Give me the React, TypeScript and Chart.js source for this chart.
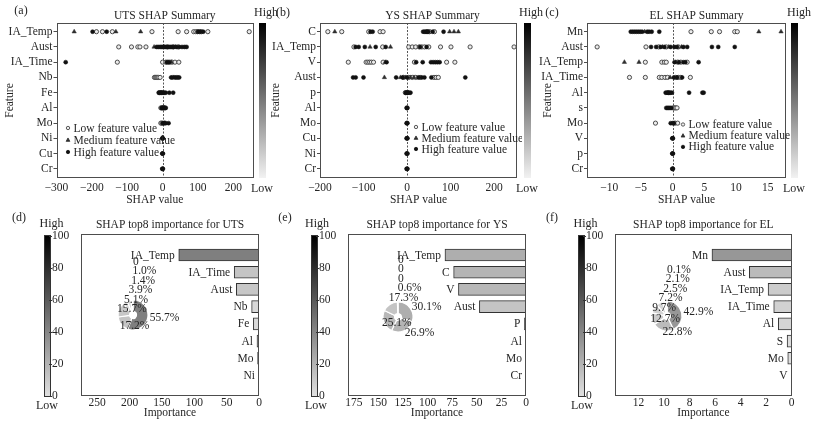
import { useEffect, useRef, type ReactNode } from "react"
import { Chart, registerables } from "chart.js"

Chart.register(...registerables)

const FONT = '"Liberation Serif", "Times New Roman", serif'
const INK = "#262626"
const EDGE = "#4d4d4d"

// ---------- (a) UTS SHAP summary ----------
const utsFeatures = ["IA_Temp", "Aust", "IA_Time", "Nb", "Fe", "Al", "Mo", "Ni", "Cu", "Cr"]
const utsTicks = [-300, -200, -100, 0, 100, 200]
const utsLow = [
  [-187, -170, -142, -30, 44, 68, 88, 94, 99, 104, 110, 128, 245],
  [-124, -88, -70, -64, -47, 14, 30, 44],
  [-128, 0, 9, 15, 21, 27, 35, 46],
  [-23, -20, -17, -14, -11, -7],
  [-9, -4],
  [-5, -1, 3, 7],
  [-5, -2],
  [], [], [],
]
const utsMed = [
  [-250, -132, -62],
  [-24, 4, 36],
  [25],
  [32],
  [-2],
  [1, 5],
  [6],
  [], [], [],
]
const utsHigh = [
  [-198, -158, 100, 107, 115],
  [-17, -12, -7, -3, 1, 5, 9, 13, 18, 22, 26, 31, 39, 47, 55, 62, 68],
  [-274, 12, 18],
  [24, 28, 35, 39, 43, 47],
  [-11, -7, -5, -1, 2, 5, 9, 19, 30],
  [-3, -1, 2, 4, 9],
  [0, 3, 6, 9, 17],
  [-1, 0, 1], [-1, 0, 1], [-1, 0, 1],
]

// ---------- (b) YS SHAP summary ----------
const ysFeatures = ["C", "IA_Temp", "V", "Aust", "p", "Al", "Mo", "Cu", "Ni", "Cr"]
const ysTicks = [-200, -100, 0, 100, 200]
const ysLow = [
  [-182, -150, -88, -62, -55, 46, 52, 63],
  [-122, -56, 4, 12, 20, 28, 34, 40, 50, 77, 101, 145, 246],
  [-135, -94, -90, -86, -82, -77, -55, 17, 91, 110],
  [-8, 4, 12, 20, 30, 62, 67, 72],
  [-4, 1],
  [], [], [], [], [],
]
const ysMed = [
  [-166, 98, 108, 118],
  [-85, -38],
  [-50],
  [-52, -15, -3, 8, 16],
  [3],
  [], [], [], [], [],
]
const ysHigh = [
  [-84, -79, 37, 40, 43, 46, 49, 59, 84],
  [-118, -111, -97, -72, -49, 30, 45],
  [-47, 21, 36, 55, 60, 65, 70, 75],
  [-124, -118, -100, -25, -10, 0, 26, 34, 40, 56, 134],
  [-3, -1, 0, 2, 5, 8],
  [-1, 0, 1], [-1, 0, 1], [-1, 0, 1], [-1, 0, 1], [-1, 0, 1],
]

// ---------- (c) EL SHAP summary ----------
const elFeatures = ["Mn", "Aust", "IA_Temp", "IA_Time", "Al", "s", "Mo", "V", "p", "Cr"]
const elTicks = [-10, -5, 0, 5, 10, 15]
const elLow = [
  [2.9, 6.1, 7.4, 9.8, 10.2],
  [-11.9, -4.2, -2.2, -1.0, 0.9],
  [-4.3, -1.7, -1.3, -1.0, 0.8, 1.3, 2.3],
  [-6.8, -4.3, -2.1, -1.7, -1.2, -0.8, 0.5, 0.9, 1.3, 2.8],
  [-0.7],
  [0.1, 0.3, 0.5, 0.7],
  [-2.7, 0.4, 0.8],
  [], [], [],
]
const elMed = [
  [-4.4, 13.6, 17.1],
  [-1.6, -0.6, 1.4],
  [-7.6, -5.3, 0.5],
  [-0.4],
  [], [], [], [], [], [],
]
const elHigh = [
  [-6.6, -6.3, -6.0, -5.7, -5.4, -5.1, -4.8, -4.0, -3.7, -3.3, -2.1],
  [-3.4, -2.6, -1.9, -1.3, -0.3, 0.3, 0.7, 1.7, 2.3, 6.2, 7.2, 9.8],
  [0.3, 1.0, 1.7, 2.0, 4.1],
  [0.2, 0.7, 1.5],
  [-1.1, -0.9, -0.7, -0.5, -0.3, -0.1, 2.6, 4.7, 4.9],
  [-1.0, -0.8, -0.6, -0.4, -0.2],
  [-0.3, 0, 0.2],
  [-0.05, 0, 0.05], [-0.05, 0, 0.05], [-0.05, 0, 0.05],
]

// ---------- (d)-(f) top8 importance and share ----------
const utsTop8 = ["IA_Temp", "IA_Time", "Aust", "Nb", "Fe", "Al", "Mo", "Ni"]
const utsImportance = [124, 38.3, 35, 11.4, 8.7, 3.1, 2.2, 0]
const utsShare = [55.7, 17.2, 15.7, 5.1, 3.9, 1.4, 1.0, 0]
const utsImpTicks = [0, 50, 100, 150, 200, 250]

const ysTop8 = ["IA_Temp", "C", "V", "Aust", "P", "Al", "Mo", "Cr"]
const ysImportance = [82.4, 73.6, 68.7, 47.4, 1.6, 0, 0, 0]
const ysShare = [30.1, 26.9, 25.1, 17.3, 0.6, 0, 0, 0]
const ysImpTicks = [0, 25, 50, 75, 100, 125, 150, 175]

const elTop8 = ["Mn", "Aust", "IA_Temp", "IA_Time", "Al", "S", "Mo", "V"]
const elImportance = [6.25, 3.32, 1.85, 1.41, 1.05, 0.36, 0.31, 0.015]
const elShare = [42.9, 22.8, 12.7, 9.7, 7.2, 2.5, 2.1, 0.1]
const elImpTicks = [0, 2, 4, 6, 8, 10, 12]

const colorbarTicks = [0, 20, 40, 60, 80, 100]

// gray colour map for bars and slices, by share in %
const shade = (pct: number) => {
  const g = Math.round(224 * Math.pow(1 - pct / 100, 0.7))
  return `rgb(${g},${g},${g})`
}
const fmt = (v: number) => String(v).replace("-", "\u2212")
const toPoints = (rows: number[][]) => rows.flatMap((vals, i) => vals.map((v) => ({ x: v, y: i })))

type Box = { left: number; top: number; width: number; height: number }

const framePlugin = {
  id: "frame",
  afterDatasetsDraw(chart: any) {
    const { ctx, chartArea: a } = chart
    ctx.save()
    ctx.strokeStyle = EDGE
    ctx.lineWidth = 1
    ctx.strokeRect(Math.round(a.left) + 0.5, Math.round(a.top) + 0.5, Math.round(a.right - a.left) - 1, Math.round(a.bottom - a.top) - 1)
    ctx.restore()
  },
}

const zeroLinePlugin = {
  id: "zeroLine",
  beforeDatasetsDraw(chart: any) {
    const { ctx, chartArea: a } = chart
    const x = Math.round(chart.scales.x.getPixelForValue(0)) + 0.5
    ctx.save()
    ctx.strokeStyle = "#555"
    ctx.lineWidth = 1
    ctx.setLineDash([2, 1.5])
    ctx.beginPath()
    ctx.moveTo(x, a.top)
    ctx.lineTo(x, a.bottom)
    ctx.stroke()
    ctx.restore()
  },
}

const titlePlugin = {
  id: "panelTitle",
  afterDraw(chart: any, _args: any, opts: any) {
    const { ctx, chartArea: a } = chart
    ctx.save()
    ctx.font = `11.5px ${FONT}`
    ctx.fillStyle = INK
    ctx.textAlign = "center"
    ctx.textBaseline = "middle"
    ctx.fillText(opts.text, (a.left + a.right) / 2 + opts.dx, opts.y)
    ctx.restore()
  },
}

function drawMarker(ctx: CanvasRenderingContext2D, style: string, x: number, y: number, r: number, fill: string, stroke: string) {
  ctx.beginPath()
  if (style === "triangle") {
    ctx.moveTo(x, y - r * 1.2)
    ctx.lineTo(x + r * 1.1, y + r * 0.8)
    ctx.lineTo(x - r * 1.1, y + r * 0.8)
    ctx.closePath()
  } else {
    ctx.arc(x, y, r, 0, Math.PI * 2)
  }
  ctx.fillStyle = fill
  ctx.fill()
  ctx.strokeStyle = stroke
  ctx.lineWidth = 0.8
  ctx.stroke()
}

const legendPlugin = {
  id: "insideLegend",
  afterDraw(chart: any, _args: any, opts: any) {
    const { ctx } = chart
    ctx.save()
    ctx.font = `11.5px ${FONT}`
    ctx.textBaseline = "middle"
    chart.data.datasets.forEach((ds: any, i: number) => {
      const y = opts.y + i * opts.gap
      drawMarker(ctx, ds.pointStyle, opts.x, y, 1.7, ds.backgroundColor, ds.borderColor)
      ctx.fillStyle = INK
      ctx.fillText(ds.label, opts.x + 5.5, y + 0.5)
    })
    ctx.restore()
  },
}

const barLabelPlugin = {
  id: "barLabels",
  afterDatasetsDraw(chart: any) {
    const { ctx } = chart
    const labels = chart.data.labels as string[]
    ctx.save()
    ctx.font = `11.5px ${FONT}`
    ctx.fillStyle = INK
    ctx.textAlign = "right"
    ctx.textBaseline = "middle"
    chart.getDatasetMeta(0).data.forEach((bar: any, i: number) => {
      const { x, y } = bar.getProps(["x", "y"], true)
      ctx.fillText(labels[i], x - 4, y + 0.5)
    })
    ctx.restore()
  },
}

const donutLabelPlugin = {
  id: "donutLabels",
  afterDatasetsDraw(chart: any) {
    const { ctx } = chart
    const shares = chart.data.datasets[0].data as number[]
    const step = 9.5
    const placed: { x: number; y: number; w: number }[] = []
    ctx.save()
    ctx.font = `11.5px ${FONT}`
    ctx.fillStyle = INK
    ctx.textAlign = "left"
    ctx.textBaseline = "middle"
    chart.getDatasetMeta(0).data.forEach((arc: any, i: number) => {
      const { x, y, startAngle, endAngle, outerRadius } = arc.getProps(["x", "y", "startAngle", "endAngle", "outerRadius"], true)
      const mid = (startAngle + endAngle) / 2
      const r = outerRadius + 2
      const text = shares[i] === 0 ? "0" : `${shares[i].toFixed(1)}%`
      const w = ctx.measureText(text).width
      const lx = x + r * Math.cos(mid)
      let ly = y + r * Math.sin(mid)
      for (let guard = 0; guard < 50; guard++) {
        const hit = placed.find((p) => Math.abs(ly - p.y) < step - 0.01 && lx < p.x + p.w && lx + w > p.x)
        if (!hit) break
        ly = hit.y - step
      }
      placed.push({ x: lx, y: ly, w })
      ctx.fillText(text, lx, ly)
    })
    ctx.restore()
  },
}

const axisFont = { family: FONT, size: 11.5 }

interface SummaryProps {
  title: string
  titleDx: number
  features: string[]
  low: number[][]
  med: number[][]
  high: number[][]
  ticks: number[]
  xMin: number
  xMax: number
  box: Box
  yAxisWidth: number
  featureX: number
  legend: { x: number; y: number; gap: number }
}

function Summary(p: SummaryProps) {
  const ref = useRef<HTMLCanvasElement>(null)

  useEffect(() => {
    if (!ref.current) return
    const plotTop = 23
    const plotBottom = 178
    const chart = new Chart(ref.current, {
      type: "scatter",
      data: {
        datasets: [
          { label: "Low feature value", data: toPoints(p.low), order: 2, pointStyle: "circle", pointRadius: 2.1, backgroundColor: "#ececec", borderColor: "#3a3a3a", borderWidth: 0.9 },
          { label: "Medium feature value", data: toPoints(p.med), order: 1, pointStyle: "triangle", pointRadius: 2.5, backgroundColor: "#2e2e2e", borderColor: "#2e2e2e", borderWidth: 0.5 },
          { label: "High feature value", data: toPoints(p.high), order: 0, pointStyle: "circle", pointRadius: 2, backgroundColor: "#111", borderColor: "#111", borderWidth: 0.5 },
        ],
      },
      options: {
        animation: false,
        responsive: false,
        events: [],
        layout: { padding: { top: plotTop, right: 2 } },
        scales: {
          x: {
            type: "linear",
            min: p.xMin,
            max: p.xMax,
            afterBuildTicks: (s: any) => {
              s.ticks = p.ticks.map((v) => ({ value: v }))
            },
            afterFit: (s: any) => {
              s.height = p.box.height - plotBottom
            },
            grid: { display: false, drawTicks: false },
            border: { display: false },
            ticks: { font: axisFont, color: INK, padding: 3, autoSkip: false, maxRotation: 0, callback: (v: any) => fmt(v) },
            title: { display: true, text: "SHAP value", font: axisFont, color: INK, padding: { top: 0, bottom: 3.1 } },
          },
          y: {
            type: "linear",
            min: -0.57,
            max: 9.6,
            reverse: true,
            afterBuildTicks: (s: any) => {
              s.ticks = p.features.map((_, i) => ({ value: i }))
            },
            afterFit: (s: any) => {
              s.width = p.yAxisWidth
            },
            grid: { drawOnChartArea: false, tickLength: 3, color: EDGE },
            border: { display: false },
            ticks: { font: axisFont, color: INK, padding: 1, autoSkip: false, callback: (v: any) => p.features[v] },
            title: { display: true, text: "Feature", font: axisFont, color: INK, padding: { top: p.featureX - 6.9, bottom: 0 } },
          },
        },
        plugins: {
          legend: { display: false },
          tooltip: { enabled: false },
          panelTitle: { text: p.title, dx: p.titleDx, y: 16 },
          insideLegend: p.legend,
        },
      },
      plugins: [zeroLinePlugin, framePlugin, titlePlugin, legendPlugin],
    } as any)
    return () => chart.destroy()
  }, [])

  return <canvas ref={ref} width={p.box.width} height={p.box.height} style={{ position: "absolute", left: p.box.left, top: p.box.top }} />
}

interface ImportanceProps {
  title: string
  labels: string[]
  values: number[]
  shares: number[]
  ticks: number[]
  xMax: number
  box: Box
  padLeft: number
  padRight: number
}

function Importance(p: ImportanceProps) {
  const ref = useRef<HTMLCanvasElement>(null)

  useEffect(() => {
    if (!ref.current) return
    const chart = new Chart(ref.current, {
      type: "bar",
      data: {
        labels: p.labels,
        datasets: [
          {
            data: p.values.map((v, i) => ({ x: v, y: i })),
            backgroundColor: p.shares.map(shade),
            borderColor: "#333",
            borderWidth: 1,
            barThickness: 12,
          },
        ],
      },
      options: {
        indexAxis: "y",
        animation: false,
        responsive: false,
        events: [],
        layout: { padding: { top: 24, left: p.padLeft, right: p.padRight } },
        scales: {
          x: {
            type: "linear",
            reverse: true,
            min: 0,
            max: p.xMax,
            afterBuildTicks: (s: any) => {
              s.ticks = p.ticks.map((v) => ({ value: v }))
            },
            afterFit: (s: any) => {
              s.height = 31
            },
            grid: { display: false, drawTicks: false },
            border: { display: false },
            ticks: { font: axisFont, color: INK, padding: 0, autoSkip: false, maxRotation: 0 },
            title: { display: true, text: "Importance", font: axisFont, color: INK, padding: { top: 0, bottom: 7.1 } },
          },
          y: { type: "linear", display: false, min: -0.7, max: 7.67, reverse: true },
        },
        plugins: {
          legend: { display: false },
          tooltip: { enabled: false },
          panelTitle: { text: p.title, dx: 0, y: 15 },
        },
      },
      plugins: [framePlugin, barLabelPlugin, titlePlugin],
    } as any)
    return () => chart.destroy()
  }, [])

  return <canvas ref={ref} width={p.box.width} height={p.box.height} style={{ position: "absolute", left: p.box.left, top: p.box.top }} />
}

function Donut({ labels, shares, cx, cy }: { labels: string[]; shares: number[]; cx: number; cy: number }) {
  const ref = useRef<HTMLCanvasElement>(null)

  useEffect(() => {
    if (!ref.current) return
    const chart = new Chart(ref.current, {
      type: "doughnut",
      data: {
        labels,
        datasets: [{ data: shares, backgroundColor: shares.map(shade), borderColor: "#fff", borderWidth: 1.2 }],
      },
      options: {
        animation: false,
        responsive: false,
        events: [],
        radius: 15,
        cutout: 8,
        layout: { padding: { top: 40, right: 20 } },
        plugins: { legend: { display: false }, tooltip: { enabled: false } },
      },
      plugins: [donutLabelPlugin],
    } as any)
    return () => chart.destroy()
  }, [])

  return <canvas ref={ref} width={110} height={110} style={{ position: "absolute", left: cx - 45, top: cy - 75 }} />
}

function Label({ x, y, children, size = 12 }: { x: number; y: number; children: ReactNode; size?: number }) {
  return (
    <div
      style={{
        position: "absolute",
        left: x,
        top: y,
        transform: "translate(-50%, -50%)",
        font: `${size}px ${FONT}`,
        color: INK,
        whiteSpace: "nowrap",
        lineHeight: 1,
      }}
    >
      {children}
    </div>
  )
}

function ColorBar({ left, top, height, low, ticks }: { left: number; top: number; height: number; low: string; ticks?: number[] }) {
  const width = 7
  return (
    <div
      style={{
        position: "absolute",
        left,
        top,
        width,
        height,
        boxSizing: "border-box",
        border: ticks ? "1px solid #333" : "none",
        background: `linear-gradient(to bottom, #000, ${low})`,
      }}
    >
      {ticks?.map((t) => {
        const y = (height - 2) * (1 - t / 100)
        return (
          <div key={t}>
            <div style={{ position: "absolute", left: width - 3, top: y - 0.5, width: 3, height: 1, background: "#333" }} />
            <div
              style={{
                position: "absolute",
                left: width,
                top: y,
                transform: "translate(0, -50%)",
                font: `11.5px ${FONT}`,
                color: INK,
                lineHeight: 1,
              }}
            >
              {t}
            </div>
          </div>
        )
      })}
    </div>
  )
}

export default function App() {
  return (
    <div style={{ position: "absolute", left: 0, top: 0, width: 816, height: 427, background: "#fff", overflow: "hidden" }}>
      <Summary
        title="UTS SHAP Summary"
        titleDx={10}
        features={utsFeatures}
        low={utsLow}
        med={utsMed}
        high={utsHigh}
        ticks={utsTicks}
        xMin={-300}
        xMax={256}
        box={{ left: 0, top: 0, width: 258, height: 210 }}
        yAxisWidth={56.5}
        featureX={10}
        legend={{ x: 68, y: 128, gap: 12 }}
      />
      <Summary
        title="YS SHAP Summary"
        titleDx={14}
        features={ysFeatures}
        low={ysLow}
        med={ysMed}
        high={ysHigh}
        ticks={ysTicks}
        xMin={-200}
        xMax={253}
        box={{ left: 264, top: 0, width: 258, height: 210 }}
        yAxisWidth={56}
        featureX={12}
        legend={{ x: 152, y: 127, gap: 11 }}
      />
      <Summary
        title="EL SHAP Summary"
        titleDx={10}
        features={elFeatures}
        low={elLow}
        med={elMed}
        high={elHigh}
        ticks={elTicks}
        xMin={-13.5}
        xMax={17.9}
        box={{ left: 536, top: 0, width: 255, height: 210 }}
        yAxisWidth={51}
        featureX={12}
        legend={{ x: 147, y: 124.5, gap: 11.2 }}
      />

      <Importance
        title="SHAP top8 importance for UTS"
        labels={utsTop8}
        values={utsImportance}
        shares={utsShare}
        ticks={utsImpTicks}
        xMax={275}
        box={{ left: 0, top: 210, width: 262, height: 217 }}
        padLeft={81}
        padRight={3}
      />
      <Importance
        title="SHAP top8 importance for YS"
        labels={ysTop8}
        values={ysImportance}
        shares={ysShare}
        ticks={ysImpTicks}
        xMax={181}
        box={{ left: 272, top: 210, width: 258, height: 217 }}
        padLeft={76}
        padRight={4}
      />
      <Importance
        title="SHAP top8 importance for EL"
        labels={elTop8}
        values={elImportance}
        shares={elShare}
        ticks={elImpTicks}
        xMax={13.85}
        box={{ left: 544, top: 210, width: 252, height: 217 }}
        padLeft={71}
        padRight={4.3}
      />

      <Donut labels={utsTop8} shares={utsShare} cx={133} cy={315} />
      <Donut labels={ysTop8} shares={ysShare} cx={398} cy={317} />
      <Donut labels={elTop8} shares={elShare} cx={666.5} cy={315.5} />

      <ColorBar left={259} top={23} height={155} low="#f2f2f2" />
      <ColorBar left={523.5} top={23} height={155} low="#f2f2f2" />
      <ColorBar left={790.5} top={23} height={155} low="#f2f2f2" />
      <ColorBar left={44} top={235} height={162} low="#e0e0e0" ticks={colorbarTicks} />
      <ColorBar left={311} top={235} height={162} low="#e0e0e0" ticks={colorbarTicks} />
      <ColorBar left={578} top={235} height={162} low="#e0e0e0" ticks={colorbarTicks} />

      <Label x={266} y={12}>High</Label>
      <Label x={262} y={188}>Low</Label>
      <Label x={531} y={12}>High</Label>
      <Label x={527} y={188}>Low</Label>
      <Label x={799} y={12}>High</Label>
      <Label x={794} y={188}>Low</Label>
      <Label x={51.5} y={223}>High</Label>
      <Label x={47} y={405}>Low</Label>
      <Label x={317} y={223}>High</Label>
      <Label x={316} y={405}>Low</Label>
      <Label x={585.5} y={223}>High</Label>
      <Label x={582} y={405}>Low</Label>

      <Label x={21} y={10}>(a)</Label>
      <Label x={283} y={12}>(b)</Label>
      <Label x={552} y={12}>(c)</Label>
      <Label x={19} y={217}>(d)</Label>
      <Label x={285} y={217}>(e)</Label>
      <Label x={552} y={217}>(f)</Label>
    </div>
  )
}
